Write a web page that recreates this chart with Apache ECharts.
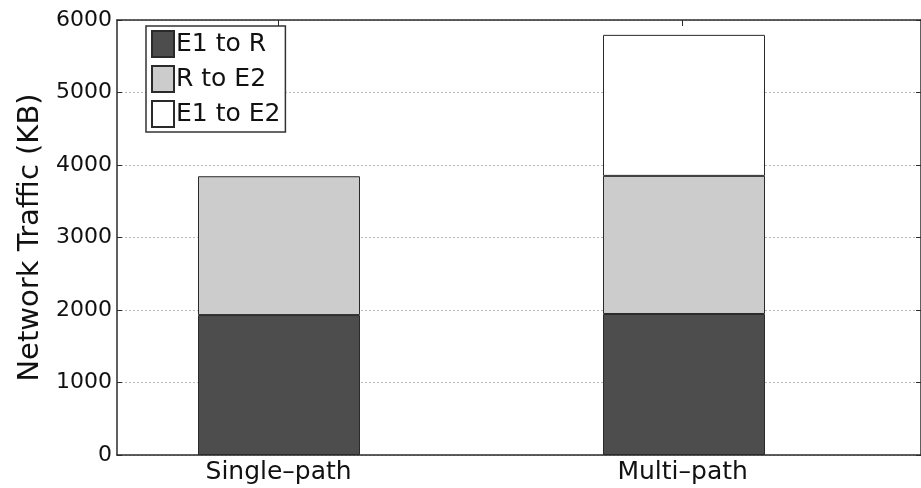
<!DOCTYPE html>
<html>
<head>
<meta charset="utf-8">
<script src="https://cdn.jsdelivr.net/npm/echarts@6/dist/echarts.min.js"></script>
<style>
html,body{margin:0;padding:0;background:#fff;}
#c{width:921px;height:488px;}
</style>
</head>
<body>
<div id="c"></div>
<script>
const categories = ['Single\u2013path', 'Multi\u2013path'];
const seriesNames = ['E1 to R', 'R to E2', 'E1 to E2'];
const e1ToR = [1930, 1945];
const rToE2 = [1915, 1905];
const e1ToE2 = [null, 1945];
const yTicks = [0, 1000, 2000, 3000, 4000, 5000, 6000];

const positions = categories.map((c, i) => i + 1);
const FONT = 'DejaVu Sans';
const axisColor = '#2b2b2b';

const chart = echarts.init(document.getElementById('c'), null, {renderer: 'canvas'});
const barStyle = (color) => ({color: color, borderColor: '#2a2a2a', borderWidth: 1});

// frame grid spans 117..923 px with x range 0.6..2.59 (405 px per unit)
// bar grid: category bands of 405 px centred on 1 and 2 of the frame grid
chart.setOption({
  animation: false,
  backgroundColor: '#ffffff',
  textStyle: {fontFamily: FONT},
  grid: [
    {left: 117, right: -2, top: 20, bottom: 33},
    {left: 76.5, right: 34.5, top: 20, bottom: 33}
  ],
  legend: {
    orient: 'vertical',
    left: 146, top: 26,
    padding: [4, 5, 4, 5],
    itemWidth: 22, itemHeight: 26, itemGap: 7,
    borderColor: '#333', borderWidth: 1.5,
    backgroundColor: '#ffffff',
    icon: 'rect',
    textStyle: {fontFamily: FONT, fontSize: 25, color: '#111', padding: [0, 0, 0, -3]},
    data: seriesNames
  },
  xAxis: [{
    gridIndex: 0, type: 'value', min: 0.6, max: 2.59, position: 'bottom',
    axisLine: {show: true, onZero: false, lineStyle: {color: axisColor, width: 1.5}},
    axisTick: {show: true, inside: true, length: 6, customValues: positions, lineStyle: {color: axisColor}},
    axisLabel: {show: true, customValues: positions, margin: 5, fontFamily: FONT, fontSize: 25, color: '#111',
      formatter: (v) => categories[Math.round(v) - 1] || ''},
    splitLine: {show: false}
  }, {
    gridIndex: 0, type: 'value', min: 0.6, max: 2.59, position: 'top',
    axisLine: {show: true, onZero: false, lineStyle: {color: axisColor, width: 1.5}},
    axisTick: {show: true, inside: true, length: 6, customValues: positions, lineStyle: {color: axisColor}},
    axisLabel: {show: false},
    splitLine: {show: false}
  }, {
    gridIndex: 1, type: 'category', data: categories, boundaryGap: true,
    axisLine: {show: false}, axisTick: {show: false}, axisLabel: {show: false}, splitLine: {show: false}
  }],
  yAxis: [{
    gridIndex: 0, type: 'value', min: 0, max: 6000, interval: 1000, position: 'left',
    name: 'Network Traffic (KB)', nameLocation: 'middle', nameGap: 70,
    nameTextStyle: {fontFamily: FONT, fontSize: 29, color: '#111'},
    axisLine: {show: true, onZero: false, lineStyle: {color: axisColor, width: 1.5}},
    axisTick: {show: true, inside: true, length: 5, lineStyle: {color: axisColor}},
    axisLabel: {margin: 5, fontFamily: FONT, fontSize: 22, color: '#111',
      formatter: (v) => yTicks.includes(v) ? String(v) : ''},
    splitLine: {show: true, lineStyle: {color: '#b8b8b8', type: [2, 2], width: 1}}
  }, {
    gridIndex: 0, type: 'value', min: 0, max: 6000, interval: 1000, position: 'right',
    axisLine: {show: true, onZero: false, lineStyle: {color: axisColor, width: 1.5}},
    axisTick: {show: true, inside: true, length: 5, lineStyle: {color: axisColor}},
    axisLabel: {show: false},
    splitLine: {show: false}
  }, {
    gridIndex: 1, type: 'value', min: 0, max: 6000, interval: 1000,
    axisLine: {show: false}, axisTick: {show: false}, axisLabel: {show: false}, splitLine: {show: false}
  }],
  series: [
    {name: seriesNames[0], type: 'bar', xAxisIndex: 2, yAxisIndex: 2, stack: 'total', barWidth: '40%', data: e1ToR, itemStyle: barStyle('#4d4d4d')},
    {name: seriesNames[1], type: 'bar', xAxisIndex: 2, yAxisIndex: 2, stack: 'total', barWidth: '40%', data: rToE2, itemStyle: barStyle('#cccccc')},
    {name: seriesNames[2], type: 'bar', xAxisIndex: 2, yAxisIndex: 2, stack: 'total', barWidth: '40%', data: e1ToE2, itemStyle: barStyle('#ffffff')}
  ]
});
</script>
</body>
</html>
